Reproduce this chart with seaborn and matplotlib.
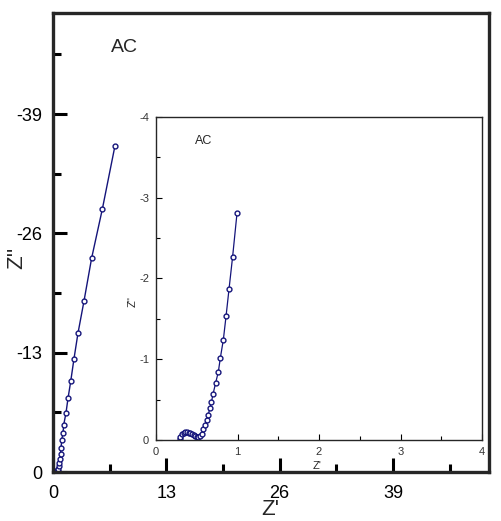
import matplotlib
matplotlib.use("Agg")
import matplotlib.pyplot as plt
from matplotlib.ticker import MultipleLocator
import seaborn as sns

# Nyquist data for AC electrode, full range (Z' , Z'')
main_zre = [0.30, 0.40, 0.50, 0.56, 0.62, 0.68, 0.74, 0.80, 0.86, 0.92, 1.00,
            1.15, 1.23, 1.49, 1.72, 2.03, 2.40, 2.86, 3.55, 4.43, 5.65, 7.10]
main_zim = [-0.02, -0.08, -0.05, -0.15, -0.35, -0.65, -1.00, -1.45, -1.95, -2.60, -3.48,
            -4.28, -5.15, -6.45, -8.02, -9.87, -12.3, -15.1, -18.6, -23.3, -28.6, -35.5]

# low-frequency zoom shown in the inset
inset_zre = [0.29, 0.30, 0.32, 0.34, 0.36, 0.38, 0.40, 0.42, 0.44, 0.46, 0.48, 0.50,
             0.52, 0.54, 0.56, 0.58, 0.60, 0.62, 0.64, 0.66, 0.68, 0.70, 0.73, 0.765,
             0.79, 0.826, 0.859, 0.896, 0.94, 0.994]
inset_zim = [-0.01, -0.04, -0.07, -0.085, -0.095, -0.095, -0.09, -0.085, -0.075, -0.06,
             -0.045, -0.035, -0.035, -0.05, -0.08, -0.13, -0.19, -0.25, -0.31, -0.39,
             -0.47, -0.57, -0.70, -0.846, -1.02, -1.24, -1.53, -1.87, -2.27, -2.81]

main_ticks = [0, 13, 26, 39]
inset_ticks = [0, 1, 2, 3, 4]

sns.set_style("ticks")
plt.rcParams["font.family"] = ["Liberation Sans", "DejaVu Sans"]
plt.rcParams["axes.unicode_minus"] = False

navy = "#14147a"
fig = plt.figure(figsize=(5.01, 5.21), dpi=100)

# main axes
ax = fig.add_axes([0.1058, 0.094, 0.870, 0.881])
sns.lineplot(x=main_zre, y=main_zim, ax=ax, sort=False, color=navy, lw=1.0,
             marker="o", markersize=3.5, markerfacecolor="white",
             markeredgecolor=navy, markeredgewidth=1.0)
ax.set_xlim(0, 50)
ax.set_ylim(0, -50)
ax.set_xticks(main_ticks)
ax.set_yticks([-t for t in main_ticks])
ax.xaxis.set_minor_locator(MultipleLocator(6.5))
ax.yaxis.set_minor_locator(MultipleLocator(6.5))
ax.tick_params(which="both", direction="in", width=2.2, labelsize=13, colors="black")
ax.tick_params(which="major", length=10)
ax.tick_params(which="minor", length=6)
ax.tick_params(axis="x", pad=9)
ax.tick_params(axis="y", pad=8)
for s in ax.spines.values():
    s.set_linewidth(2.4)
ax.set_xlabel("Z'", fontsize=16)
ax.set_ylabel("Z''", fontsize=16)
ax.xaxis.set_label_coords(0.498, -0.058)
ax.yaxis.set_label_coords(-0.058, 0.466)
ax.text(0.165, 0.925, "AC", transform=ax.transAxes, fontsize=14, ha="center", va="center")

# inset axes
ins = fig.add_axes([0.3114, 0.1555, 0.6507, 0.620])
sns.lineplot(x=inset_zre, y=inset_zim, ax=ins, sort=False, color=navy, lw=0.9,
             marker="o", markersize=3.5, markerfacecolor="white",
             markeredgecolor=navy, markeredgewidth=1.0)
ins.set_xlim(0, 4)
ins.set_ylim(0, -4)
ins.set_xticks(inset_ticks)
ins.set_yticks([-t for t in inset_ticks])
ins.xaxis.set_minor_locator(MultipleLocator(0.5))
ins.yaxis.set_minor_locator(MultipleLocator(0.5))
ins.tick_params(which="both", direction="in", width=0.8, labelsize=8,
                labelcolor="#333333", color="black")
ins.tick_params(which="major", length=4)
ins.tick_params(which="minor", length=3)
ins.tick_params(axis="x", pad=5)
ins.tick_params(axis="y", pad=5)
for s in ins.spines.values():
    s.set_linewidth(1.0)
ins.set_xlabel("Z'", fontsize=8)
ins.set_ylabel("Z''", fontsize=8)
ins.xaxis.set_label_coords(0.494, -0.064)
ins.yaxis.set_label_coords(-0.056, 0.43)
ins.text(0.145, 0.925, "AC", transform=ins.transAxes, fontsize=9, ha="center", va="center")

fig.savefig("out.png", dpi=100)
